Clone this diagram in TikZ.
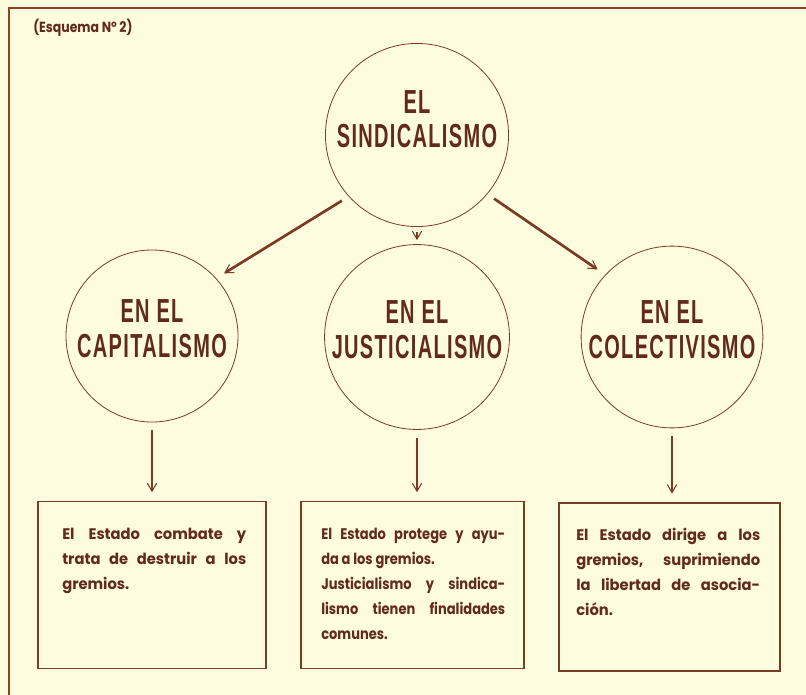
\documentclass[tikz,border=0pt]{standalone}
\usepackage{fontspec}
\setmainfont[FakeStretch=0.85]{Poppins}
\newfontfamily\widebody[FakeStretch=0.96]{Poppins}
\newfontfamily\titlefont[FakeStretch=0.6,LetterSpace=4]{Liberation Sans}
\usetikzlibrary{arrows.meta,positioning}
\definecolor{paper}{RGB}{254,252,222}
\definecolor{ink}{RGB}{98,42,28}
\definecolor{rule}{RGB}{122,58,38}
\tikzset{
  >={Straight Barb[length=6pt,width=7pt,line width=0.8pt]},
  frame/.style={draw=rule!85!orange,line width=1.3pt},
  topic/.style={circle,draw=rule,line width=0.6pt,minimum size=129pt,inner sep=0pt,
    align=center,text=ink,text depth=11pt,font=\titlefont\bfseries\fontsize{25}{26}\selectfont},
  panel/.style={draw=rule,line width=1.1pt,minimum width=#1,minimum height=125pt,inner sep=0pt},
  panel/.default=170pt,
  panel text/.style={anchor=north west,inner sep=0pt,text width=138pt,align=justify,
    text=ink,font=#1\bfseries\fontsize{11.5}{18.75}\selectfont},
  panel text/.default=\widebody,
  flow/.style={->,line width=#1,draw=rule},
  flow/.default=2pt,
}
\begin{document}
\begin{tikzpicture}[x=0.75pt,y=-0.75pt]
  \useasboundingbox (0,0) rectangle (806,695);
  \fill[paper] (0,0) rectangle (806,695);
  \draw[frame] (9,720) -- (9,8) -- (830,8);
  \node[anchor=west,inner sep=0pt,text=ink,font=\bfseries\fontsize{11}{12}\selectfont] (esq) at (33,28) {(Esquema Nº 2)};
  % circles
  \node[topic,text depth=24pt] (sind) at (417,135) {EL\\SINDICALISMO};
  \node[topic] (cap) at (152,336) {EN EL\\CAPITALISMO};
  \node[topic] (just) at (417,337) {EN EL\\JUSTICIALISMO};
  \node[topic] (col) at (672,337) {EN EL\\COLECTIVISMO};
  % boxes
  \node[panel=171pt] (capbox) at (152,585) {};
  \node[panel=167pt] (justbox) at (412.5,585) {};
  \node[panel=166pt,minimum height=126pt] (colbox) at (669.5,587) {};
  \node[panel text] (captxt) at (62,528) {El Estado combate y\linebreak trata de destruir a los\linebreak gremios.};
  \node[panel text=\rmfamily] (justtxt) at (321,528) {El Estado protege y ayu-\linebreak da a los gremios.\\ Justicialismo y sindica-\linebreak lismo tienen finalidades\linebreak comunes.};
  \node[panel text] (coltxt) at (576,528) {El Estado dirige a los\linebreak gremios, suprimiendo\linebreak la libertad de asocia-\linebreak ción.};
  % arrows
  \draw[flow,shorten <=6pt,shorten >=7pt] (sind.222) -- (cap.42);
  \draw[flow=0.9pt,shorten <=4pt,shorten >=3pt] (sind) -- (just);
  \draw[flow,shorten <=6pt,shorten >=7pt] (sind.320) -- (col.137);
  \draw[flow,shorten <=6pt,shorten >=6.5pt] (cap.south) -- (cap.south |- capbox.north);
  \draw[flow,shorten <=6pt,shorten >=6.5pt] (just.south) -- (just.south |- justbox.north);
  \draw[flow,shorten <=6pt,shorten >=6.5pt] (col.south) -- (col.south |- colbox.north);
\end{tikzpicture}
\end{document}
